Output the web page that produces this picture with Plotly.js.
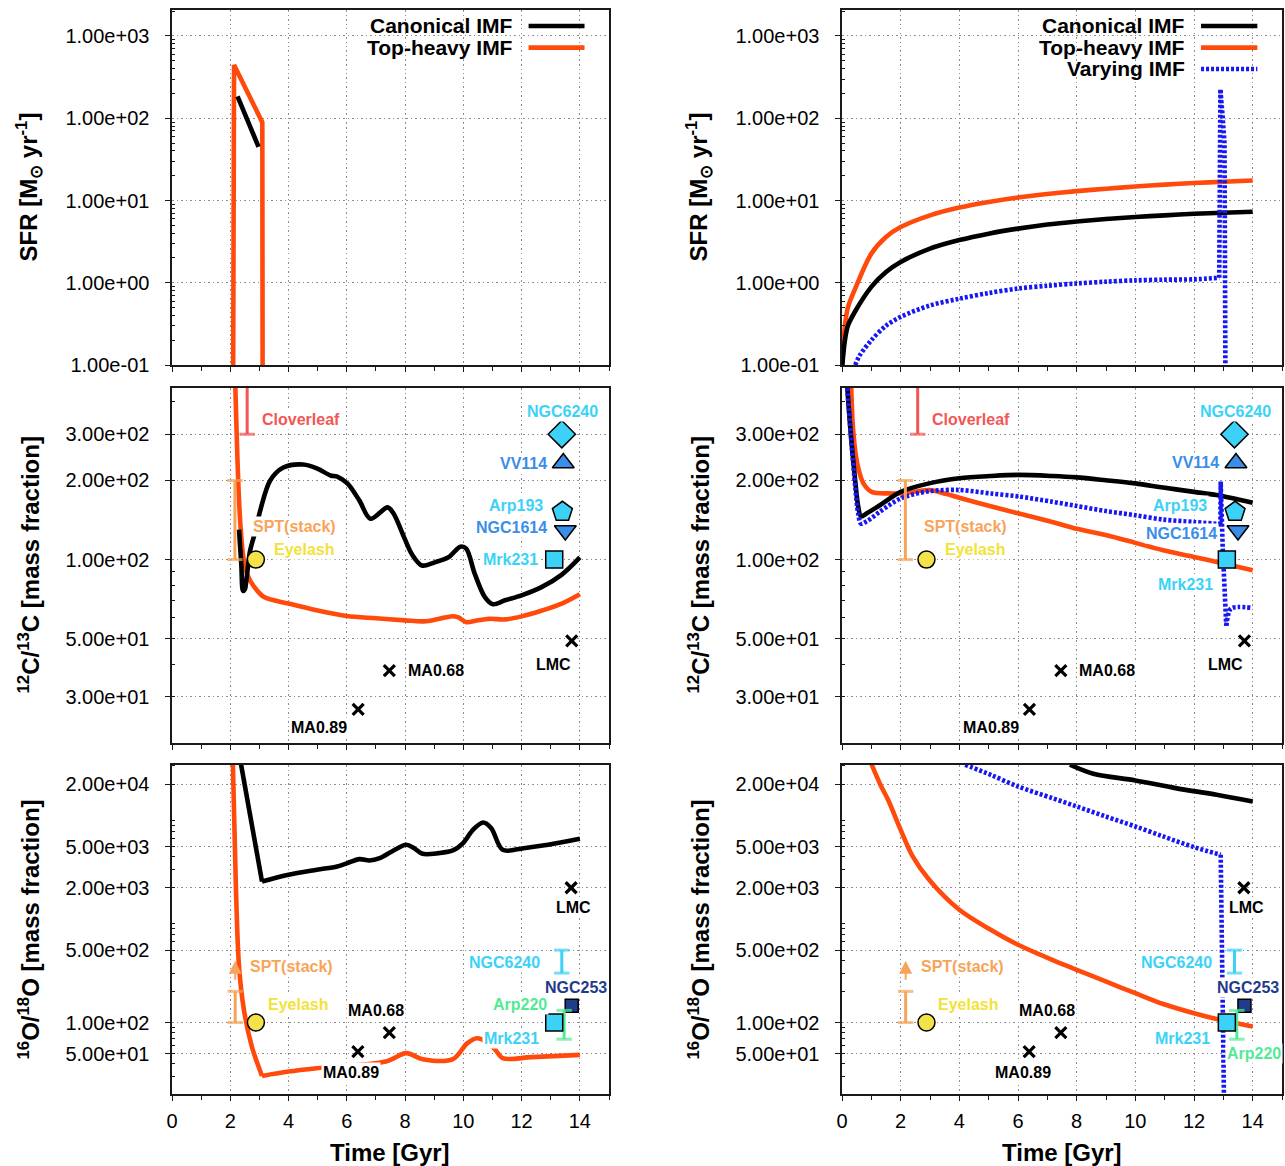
<!DOCTYPE html>
<html><head><meta charset="utf-8">
<script src="https://cdn.plot.ly/plotly-3.0.1.min.js"></script>
<style>body{margin:0;background:#fff}#chart{width:1285px;height:1166px}</style>
</head><body><div id="chart"></div>
<script>
// ================= DATA =================
// --- SFR, left (starburst) ---
const sfrL_t_top = [2.10, 2.13, 3.10, 3.11];
const sfrL_top   = [0.1, 445, 89, 0.1];
const sfrL_t_can = [2.25, 2.97];
const sfrL_can   = [185, 45];
// --- SFR, right ---
const sfrR_t     = [0.01, 0.1, 0.2, 0.45, 1, 1.5, 2, 3, 4, 5, 6, 7, 8, 9, 10, 11, 12, 13, 14];
const sfrR_top   = [0.1, 0.3, 0.5, 0.85, 2.26, 3.6, 4.75, 6.6, 8.2, 9.6, 10.9, 12.0, 13.0, 13.9, 14.8, 15.6, 16.3, 16.9, 17.5];
const sfrR_can   = [0.1, 0.2, 0.3, 0.45, 0.89, 1.35, 1.79, 2.6, 3.3, 3.95, 4.55, 5.1, 5.55, 5.95, 6.3, 6.6, 6.9, 7.1, 7.3];
const sfrR_t_var = [0.45, 0.6, 1, 1.5, 2, 3, 4, 5, 6, 7, 8, 9, 10, 11, 12, 12.86, 12.9, 12.97, 13.04, 13.07];
const sfrR_var   = [0.1, 0.13, 0.2, 0.3, 0.385, 0.53, 0.64, 0.75, 0.85, 0.92, 0.98, 1.03, 1.07, 1.09, 1.1, 1.15, 226, 112, 50, 0.1];

// --- 12C/13C, left ---
const cL_t_top = [2.17, 2.22, 2.28, 2.35, 2.46, 2.6, 2.81, 3.16, 4, 5, 6, 7, 8, 8.65, 9.14, 9.62, 9.83, 10.1, 10.46, 10.88, 11.43, 12, 12.7, 13.38, 14];
const cL_top   = [470, 300, 190, 135, 100, 87, 79, 72, 68, 64, 61, 59.8, 58.7, 58.2, 59.4, 60.9, 60.3, 57.8, 58.6, 59.5, 59.2, 60.8, 64, 68, 73.8];
const cL_t_can = [2.3, 2.38, 2.44, 2.5, 2.56, 2.68, 2.86, 3.03, 3.37, 3.82, 4.5, 4.99, 5.44, 5.67, 6.02, 6.43, 6.81, 7.4, 7.6, 7.96, 8.23, 8.58, 9.07, 9.49, 9.9, 10.1, 10.39, 10.74, 11.02, 11.43, 12, 12.7, 13.38, 14];
const cL_can   = [130, 95, 76, 77, 85, 108, 128, 154, 200, 224, 230, 222, 209, 207, 195, 168, 143, 158, 150, 122, 105, 95, 98, 102, 112, 110, 88.4, 72, 67.6, 70, 73.1, 78.7, 87.7, 102];
// --- 12C/13C, right ---
const cR_t_top = [0.31, 0.38, 0.52, 0.73, 1.01, 1.57, 2.13, 2.97, 3.53, 4, 5.07, 6, 7.17, 8, 8.99, 10, 10.95, 12, 12.77, 14];
const cR_top   = [470, 311, 232, 195, 181, 178.6, 179, 184, 178, 172, 159.6, 150, 139, 131, 124, 115.8, 108.5, 102.4, 98, 91];
const cR_t_can = [0.17, 0.3, 0.45, 0.55, 0.65, 0.85, 1.29, 2, 2.97, 4, 5.07, 6, 7.17, 8, 8.99, 10, 10.95, 12, 12.77, 14];
const cR_can   = [470, 300, 200, 160, 146, 150, 161, 181, 195, 204, 208, 210, 208, 205.5, 200.5, 195, 188, 181, 176, 164.5];
const cR_t_var = [0.17, 0.3, 0.45, 0.55, 0.65, 0.85, 1.29, 2, 2.97, 4, 5.07, 6, 7.17, 8, 8.99, 10, 10.95, 12, 12.84, 12.9, 12.91, 12.98, 13.06, 13.1, 13.25, 13.5, 14];
const cR_var   = [470, 300, 190, 150, 137, 140, 152, 171, 182, 184, 178.5, 174, 166, 160, 153, 147.5, 142, 139, 136.5, 136, 198, 110, 58.7, 56, 65, 66, 65.5];

// --- 16O/18O, left ---
const oL_t_top = [2.09, 2.19, 2.3, 2.47, 2.74, 3.09, 4, 4.97, 7.34, 8.04, 8.6, 9.64, 10.13, 10.47, 10.8, 11.1, 11.35, 12.35, 14];
const oL_top   = [31000, 2213, 348, 132, 58.6, 30.5, 33.6, 36.2, 42, 50.6, 44.3, 44.3, 63, 70.6, 65, 54.5, 45.3, 46.3, 48.7];
const oL_t_can = [2.37, 3.09, 4, 4.97, 5.67, 6.02, 6.43, 6.78, 7.13, 7.55, 8.04, 8.31, 8.6, 9.15, 9.64, 9.99, 10.33, 10.68, 10.96, 11.35, 12.07, 12.91, 14];
const oL_can   = [31000, 2296, 2666, 2980, 3210, 3453, 3776, 3666, 3864, 4480, 5193, 4820, 4254, 4316, 4580, 5400, 7250, 8530, 7520, 4645, 4820, 5190, 5930];
// --- 16O/18O, right ---
const oR_t_top = [1.01, 1.3, 1.57, 2, 2.41, 2.97, 4, 5.07, 6, 7.17, 8, 8.99, 10, 10.95, 12, 12.77, 14];
const oR_top   = [31000, 20000, 14130, 7250, 4010, 2387, 1225, 785, 563, 403, 323, 249, 192, 151, 123, 108, 91.5];
const oR_t_can = [7.77, 8.57, 10, 11.37, 12.77, 14];
const oR_can   = [30800, 25180, 21720, 18320, 15790, 13610];
const oR_t_var = [4.2, 5.07, 6, 7.17, 8, 8.99, 10, 10.95, 12, 12.91, 12.92, 12.95, 12.97, 13.02];
const oR_var   = [30800, 24600, 19000, 14660, 12180, 9750, 7810, 6255, 4935, 4160, 2213, 504, 54, 20];

// --- observations: 12C/13C ---
const obsC_names = ['Cloverleaf', 'SPT(stack)', 'Eyelash', 'NGC6240', 'VV114', 'Arp193', 'NGC1614', 'Mrk231', 'LMC', 'MA0.68', 'MA0.89'];
const obsC_t     = [2.58, 2.16, 2.88, 13.38, 13.43, 13.4, 13.5, 13.12, 13.72, 7.46, 6.39];
const obsC_val   = [300, 100, 100, 300, 233, 152, 129, 100, 49, 37.8, 26.9];
const obsC_hi    = [1000, 200, null, null, null, null, null, null, null, null, null];
// --- observations: 16O/18O ---
const obsO_names = ['SPT(stack)', 'Eyelash', 'MA0.68', 'MA0.89', 'LMC', 'NGC6240', 'NGC253', 'Arp220', 'Mrk231'];
const obsO_t     = [2.17, 2.88, 7.46, 6.38, 13.7, 13.38, 13.72, 13.46, 13.12];
const obsO_val   = [100, 100, 80, 52.5, 2000, 300, 145, 69, 100];
const obsO_hi    = [200, null, null, null, null, 500, null, 131, null];
const sptArrow   = [250, 395];   // SPT(stack) 16O/18O lower-limit arrow

// --- ticks ---
const sfrTicks = [0.1, 1, 10, 100, 1000];
const sfrText  = ['1.00e-01', '1.00e+00', '1.00e+01', '1.00e+02', '1.00e+03'];
const cTicks   = [30, 50, 100, 200, 300];
const cText    = ['3.00e+01', '5.00e+01', '1.00e+02', '2.00e+02', '3.00e+02'];
const oTicks   = [50, 100, 500, 2000, 5000, 20000];
const oText    = ['5.00e+01', '1.00e+02', '5.00e+02', '2.00e+03', '5.00e+03', '2.00e+04'];
const legendNames = ['Canonical IMF', 'Top-heavy IMF', 'Varying IMF'];

// ================= STYLE =================
const FF = 'Liberation Sans, Arial, Helvetica, sans-serif';
const cBlack = '#000000', cOrange = '#ff4a0c', cBlue = '#1717f5';
const cRed = '#f25656', cSand = '#f7a45a', cYellow = '#f4e24a', cCyan = '#3cd2f7', cDBlue = '#3a8ee8', cNavy = '#1f3b8a', cGreen = '#52ea95';
const obsColorC = [cRed, cSand, '#f2e23a', cCyan, cDBlue, cCyan, cDBlue, cCyan, cBlack, cBlack, cBlack];
const obsColorO = [cSand, '#f2e23a', cBlack, cBlack, cBlack, cCyan, cNavy, cGreen, cCyan];
const LW = 4.6, DOT = '3px,2px';

const traces = [];
// draw a series; segs = [[from, to, shape], ...] index ranges (inclusive) drawn as spline or linear pieces
function ln(x, y, xa, ya, color, dash, segs) {
  segs = segs || [[0, x.length - 1, 'spline']];
  segs.forEach(([a, b, shape]) => {
    traces.push({type: 'scatter', mode: 'lines', x: x.slice(a, b + 1), y: y.slice(a, b + 1), xaxis: xa, yaxis: ya,
      line: {color, width: LW, dash: dash || 'solid', shape, smoothing: 0.9}, hoverinfo: 'skip', showlegend: false});
  });
}
function mk(x, y, xa, ya, symbol, size, fill, lc, lw) {
  traces.push({type: 'scatter', mode: 'markers', x: [x], y: [y], xaxis: xa, yaxis: ya,
    marker: {symbol, size, color: fill, line: {color: lc, width: lw}}, cliponaxis: false, showlegend: false});
}
function bar(x, lo, hi, xa, ya, color, capTop) {
  traces.push({type: 'scatter', mode: 'lines+markers', x: [x, x], y: [lo, hi], xaxis: xa, yaxis: ya,
    line: {color, width: 3}, marker: {symbol: 'line-ew', size: [11, capTop ? 11 : 0], color,
    line: {color, width: 3}}, showlegend: false});
}

// ---- SFR panels
ln(sfrL_t_top, sfrL_top, 'x', 'y', cOrange, null, [[0, 3, 'linear']]);
ln(sfrL_t_can, sfrL_can, 'x', 'y', cBlack, null, [[0, 1, 'linear']]);
ln(sfrR_t, sfrR_top, 'x2', 'y2', cOrange);
ln(sfrR_t, sfrR_can, 'x2', 'y2', cBlack);
ln(sfrR_t_var, sfrR_var, 'x2', 'y2', cBlue, DOT, [[0, 15, 'spline'], [15, 19, 'linear']]);
// ---- 12C/13C
ln(cL_t_top, cL_top, 'x3', 'y3', cOrange);
ln(cL_t_can, cL_can, 'x3', 'y3', cBlack);
ln(cR_t_top, cR_top, 'x4', 'y4', cOrange);
ln(cR_t_can, cR_can, 'x4', 'y4', cBlack);
ln(cR_t_var, cR_var, 'x4', 'y4', cBlue, DOT, [[0, 19, 'spline'], [19, 23, 'linear'], [23, 26, 'spline']]);
// ---- 16O/18O
ln(oL_t_top, oL_top, 'x5', 'y5', cOrange, null, [[0, 5, 'spline'], [5, 18, 'spline']]);
ln(oL_t_can, oL_can, 'x5', 'y5', cBlack, null, [[0, 1, 'linear'], [1, 22, 'spline']]);
ln(oR_t_top, oR_top, 'x6', 'y6', cOrange);
ln(oR_t_can, oR_can, 'x6', 'y6', cBlack);
ln(oR_t_var, oR_var, 'x6', 'y6', cBlue, DOT, [[0, 9, 'spline'], [9, 13, 'linear']]);

// ---- observations
const cSym = {'Eyelash': ['circle', 17, cYellow], 'NGC6240': ['diamond', 21, cCyan], 'VV114': ['triangle-up', 19, cDBlue],
  'Arp193': ['pentagon', 21, cCyan], 'NGC1614': ['triangle-down', 19, cDBlue], 'Mrk231': ['square', 17, cCyan],
  'NGC253': ['square', 13, cNavy]};
[['x3', 'y3'], ['x4', 'y4']].forEach(([xa, ya]) => {
  obsC_names.forEach((n, i) => {
    if (n === 'Cloverleaf') bar(obsC_t[i], obsC_val[i], obsC_hi[i], xa, ya, cRed, false);
    else if (n === 'SPT(stack)') bar(obsC_t[i], obsC_val[i], obsC_hi[i], xa, ya, cSand, true);
    else if (cSym[n]) mk(obsC_t[i], obsC_val[i], xa, ya, cSym[n][0], cSym[n][1], cSym[n][2], '#000', 1.5);
    else mk(obsC_t[i], obsC_val[i], xa, ya, 'x-thin', 11, '#000', '#000', 3.2);
  });
});
[['x5', 'y5'], ['x6', 'y6']].forEach(([xa, ya]) => {
  obsO_names.forEach((n, i) => {
    if (obsO_hi[i] !== null) bar(obsO_t[i], obsO_val[i], obsO_hi[i], xa, ya, obsColorO[i], true);
    else if (cSym[n]) mk(obsO_t[i], obsO_val[i], xa, ya, cSym[n][0], cSym[n][1], cSym[n][2], '#000', 1.5);
    else mk(obsO_t[i], obsO_val[i], xa, ya, 'x-thin', 11, '#000', '#000', 3.2);
  });
});

// ================= LAYOUT =================
const XL = [172 / 1285, 609 / 1285], XR = [842 / 1285, 1282 / 1285];
const YT = [1 - 365 / 1166, 1 - 10 / 1166], YM = [1 - 743 / 1166, 1 - 388 / 1166], YB = [1 - 1094 / 1166, 1 - 765 / 1166];
const grid = {showgrid: true, gridcolor: '#8f8f8f', griddash: '1.5px,3px', gridwidth: 1, zeroline: false,
  showline: true, linecolor: '#1a1a1a', linewidth: 1.6, mirror: true, ticks: 'outside', ticklen: 5, tickcolor: '#1a1a1a'};
function xAx(dom, anchor, labels) {
  return Object.assign({domain: dom, anchor, range: [0, 15], tickmode: 'linear', tick0: 0, dtick: 2,
    showticklabels: labels, ticklabelstandoff: 3, tickfont: {family: FF, size: 20, color: '#000'},
    minor: {tickmode: 'linear', tick0: 0, dtick: 1, ticks: 'outside', ticklen: 4, tickcolor: '#1a1a1a', showgrid: false}}, grid);
}
function minorLog(lo, hi) {
  const v = [];
  for (let e = Math.floor(lo); e <= Math.ceil(hi); e++) for (let m = 2; m <= 9; m++) v.push(m * Math.pow(10, e));
  return v;
}
function yAx(dom, anchor, range, vals, txt) {
  return Object.assign({domain: dom, anchor, type: 'log', range, tickmode: 'array', tickvals: vals, ticktext: txt,
    ticklabelstandoff: 12, tickfont: {family: FF, size: 20, color: '#000'},
    minor: {tickmode: 'array', tickvals: minorLog(range[0], range[1]), ticks: 'inside', ticklen: 3, tickcolor: '#1a1a1a', showgrid: false}}, grid);
}
const rT = [-1, 3.316], rM = [1.302, 2.653], rB = [1.31, 4.486];

const ann = [];
const shapes = [];
function lab(text, x, y, xa, ya, color, xanchor) {
  ann.push({text: '<b>' + text + '</b>', x, y: Math.log10(y), xref: xa, yref: ya, xanchor: xanchor || 'center',
    yanchor: 'middle', showarrow: false, bgcolor: '#ffffff', borderpad: 1,
    font: {family: FF, size: 16, color}});
}
// 12C/13C labels
const labC_L = [[3.02, 340, 'left'], [2.7, 134, 'left'], [3.43, 109, 'left'], [13.42, 366, 'center'], [12.93, 233, 'right'],
  [12.82, 160, 'right'], [12.93, 132, 'right'], [12.64, 100, 'right'], [13.1, 39.9, 'center'], [8.03, 37.8, 'left'], [5.06, 22.9, 'center']];
const labC_R = [[3.01, 340, 'left'], [2.73, 134, 'left'], [3.43, 109, 'left'], [13.4, 366, 'center'], [12.91, 235, 'right'],
  [12.52, 160, 'right'], [12.84, 126, 'right'], [11.72, 80.6, 'center'], [13.08, 39.9, 'center'], [8.01, 37.8, 'left'], [5.07, 22.9, 'center']];
obsC_names.forEach((n, i) => {
  lab(n, labC_L[i][0], labC_L[i][1], 'x3', 'y3', obsColorC[i], labC_L[i][2]);
  lab(n, labC_R[i][0], labC_R[i][1], 'x4', 'y4', obsColorC[i], labC_R[i][2]);
});
// 16O/18O labels
const labO_L = [[2.6, 348, 'left'], [3.23, 148, 'left'], [6.99, 130, 'center'], [6.16, 32.9, 'center'], [13.79, 1300, 'center'],
  [11.42, 383, 'center'], [13.87, 219, 'center'], [11.94, 150, 'center'], [11.64, 70.6, 'center']];
const labO_R = [[2.62, 348, 'left'], [3.22, 148, 'left'], [7.0, 130, 'center'], [6.16, 32.9, 'center'], [13.78, 1300, 'center'],
  [11.41, 383, 'center'], [13.85, 219, 'center'], [14.03, 49.8, 'center'], [11.62, 70.6, 'center']];
obsO_names.forEach((n, i) => {
  lab(n, labO_L[i][0], labO_L[i][1], 'x5', 'y5', obsColorO[i], labO_L[i][2]);
  lab(n, labO_R[i][0], labO_R[i][1], 'x6', 'y6', obsColorO[i], labO_R[i][2]);
});
// SPT lower-limit arrows
[['x5', 'y5'], ['x6', 'y6']].forEach(([xa, ya]) => {
  ann.push({text: '', x: obsO_t[0], y: Math.log10(sptArrow[1]), ax: obsO_t[0], ay: Math.log10(sptArrow[0]),
    xref: xa, yref: ya, axref: xa, ayref: ya, showarrow: true, arrowhead: 2, arrowsize: 1.3, arrowwidth: 2, arrowcolor: cSand});
});
// Legends (gnuplot style: text right, sample line)
function legend(xa, ya, names, colors, dashes, ys) {
  names.forEach((n, i) => {
    ann.push({text: '<b>' + n + '</b>', x: 0.785, y: ys[i], xref: xa + ' domain', yref: ya + ' domain', xanchor: 'right', yanchor: 'middle',
      showarrow: false, font: {family: FF, size: 21, color: '#000'}});
    shapes.push({type: 'line', xref: xa + ' domain', yref: ya + ' domain', x0: 0.816, x1: 0.944, y0: ys[i], y1: ys[i],
      line: {color: colors[i], width: LW, dash: dashes[i]}});
  });
}
legend('x', 'y', legendNames.slice(0, 2), [cBlack, cOrange], ['solid', 'solid'], [0.955, 0.894]);
legend('x2', 'y2', legendNames, [cBlack, cOrange, cBlue], ['solid', 'solid', DOT], [0.955, 0.894, 0.834]);
// Axis titles
const yTitles = ['<b>SFR [M<sub>⊙</sub> yr<sup>-1</sup>]</b>', '<b><sup>12</sup>C/<sup>13</sup>C [mass fraction]</b>', '<b><sup>16</sup>O/<sup>18</sup>O [mass fraction]</b>'];
const yCent = [187.5, 565.5, 929.5];
yTitles.forEach((t, i) => {
  [28, 698].forEach(px => ann.push({text: t, x: px / 1285, y: 1 - yCent[i] / 1166, xref: 'paper', yref: 'paper',
    xanchor: 'center', yanchor: 'middle', textangle: -90, showarrow: false, font: {family: FF, size: 24, color: '#000'}}));
});
[390, 1062].forEach(px => ann.push({text: '<b>Time [Gyr]</b>', x: px / 1285, y: 1 - 1152 / 1166, xref: 'paper', yref: 'paper',
  xanchor: 'center', yanchor: 'middle', showarrow: false, font: {family: FF, size: 24, color: '#000'}}));

const layout = {
  width: 1285, height: 1166, margin: {l: 0, r: 0, t: 0, b: 0}, paper_bgcolor: '#fff', plot_bgcolor: '#fff',
  showlegend: false, font: {family: FF, color: '#000'},
  xaxis: xAx(XL, 'y', false), yaxis: yAx(YT, 'x', rT, sfrTicks, sfrText),
  xaxis2: xAx(XR, 'y2', false), yaxis2: yAx(YT, 'x2', rT, sfrTicks, sfrText),
  xaxis3: xAx(XL, 'y3', false), yaxis3: yAx(YM, 'x3', rM, cTicks, cText),
  xaxis4: xAx(XR, 'y4', false), yaxis4: yAx(YM, 'x4', rM, cTicks, cText),
  xaxis5: xAx(XL, 'y5', true), yaxis5: yAx(YB, 'x5', rB, oTicks, oText),
  xaxis6: xAx(XR, 'y6', true), yaxis6: yAx(YB, 'x6', rB, oTicks, oText),
  annotations: ann, shapes
};
Plotly.newPlot('chart', traces, layout, {staticPlot: true});
</script></body></html>
